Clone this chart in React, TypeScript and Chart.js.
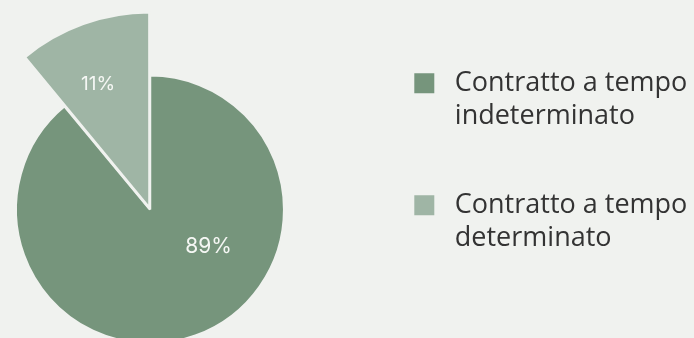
import { useEffect, useRef } from "react";
import { Chart, registerables } from "chart.js";

Chart.register(...registerables);

// ---- data ----
const categories: string[][] = [
  ["Contratto a tempo", "indeterminato"],
  ["Contratto a tempo", "determinato"],
];
const shares: number[] = [89, 11];

// ---- styles ----
const BG = "#f0f2ef";
const sliceColors = ["#76957c", "#9fb5a5"];
const sliceOffsets = [0, 6];
const EXPLODE = [1, 1.455]; // outer radius factor per slice (highlighted slice sticks out)
const LABEL_ANGLE = [0.382, 0.432]; // fraction along the arc
const LABEL_RADIUS = [0.516, 0.695]; // fraction of outer radius
const LABEL_SIZE = [21, 19];
const FONT = '"Open Sans", sans-serif';
const LABEL_FONT = 'Inter, "Open Sans", sans-serif';
const LEGEND_SIZE = 27;
const LEGEND_PAD = 56;
const BOX = 20;
const LEGEND_LEFT = 358.3; // wanted left edge of the legend box (page px)

// canvas is a bit larger than the visible frame so the pie can bleed off the edges
const SHIFT_X = 70;
const EXTRA_R = 40;
const CANVAS_W = 694 + SHIFT_X + EXTRA_R;
const CANVAS_H = 410;

const explodePlugin = {
  id: "explodeSlice",
  afterDatasetsUpdate(chart: any) {
    const meta = chart.getDatasetMeta(0);
    const base = meta.controller.outerRadius;
    meta.data.forEach((arc: any, i: number) => {
      arc.outerRadius = base * EXPLODE[i];
    });
  },
};

const labelPlugin = {
  id: "sliceLabels",
  afterDatasetsDraw(chart: any) {
    const ctx = chart.ctx;
    const meta = chart.getDatasetMeta(0);
    meta.data.forEach((arc: any, i: number) => {
      const { x, y, startAngle, endAngle, outerRadius } = arc;
      const a = startAngle + LABEL_ANGLE[i] * (endAngle - startAngle);
      const r = LABEL_RADIUS[i] * outerRadius;
      ctx.save();
      ctx.font = `${LABEL_SIZE[i]}px ${LABEL_FONT}`;
      ctx.fillStyle = "#f5f7f4";
      ctx.textAlign = "center";
      ctx.textBaseline = "middle";
      ctx.fillText(`${shares[i]}%`, x + r * Math.cos(a), y + r * Math.sin(a));
      ctx.restore();
    });
  },
};

export default function App() {
  const ref = useRef<HTMLCanvasElement | null>(null);
  useEffect(() => {
    const canvas = ref.current as HTMLCanvasElement;
    const mctx = document.createElement("canvas").getContext("2d") as CanvasRenderingContext2D;
    mctx.font = `${LEGEND_SIZE}px ${FONT}`;
    let textW = 0;
    categories.forEach((lines) =>
      lines.forEach((l) => {
        textW = Math.max(textW, mctx.measureText(" " + l).width);
      })
    );
    const legendW = LEGEND_PAD + BOX + LEGEND_SIZE / 2 + textW + 10;
    const padRight = 694 + EXTRA_R - (LEGEND_LEFT + legendW);

    const chart = new Chart(canvas, {
      type: "pie",
      data: {
        labels: categories as any,
        datasets: [
          {
            data: shares,
            backgroundColor: sliceColors,
            borderColor: BG,
            borderWidth: 2.5,
            offset: sliceOffsets,
            radius: 134.2,
          } as any,
        ],
      },
      options: {
        animation: false,
        responsive: true,
        maintainAspectRatio: false,
        layout: { padding: { left: 11.7, right: padRight, top: 13.8, bottom: 4.8 } },
        plugins: {
          tooltip: { enabled: false },
          legend: {
            position: "right",
            align: "start",
            labels: {
              boxWidth: BOX,
              boxHeight: BOX,
              padding: LEGEND_PAD,
              color: "#333333",
              font: { family: FONT, size: LEGEND_SIZE, lineHeight: 1.222 },
              generateLabels: () =>
                categories.map((lines, i) => ({
                  text: lines.map((l) => " " + l) as any,
                  fillStyle: sliceColors[i],
                  strokeStyle: sliceColors[i],
                  lineWidth: 0,
                  hidden: false,
                  index: i,
                  fontColor: "#333333",
                })),
            },
          },
        },
      } as any,
      plugins: [explodePlugin, labelPlugin],
    });
    return () => chart.destroy();
  }, []);
  return (
    <div
      style={{
        position: "absolute",
        left: 0,
        top: 0,
        width: 694,
        height: 338,
        background: BG,
        overflow: "hidden",
      }}
    >
      <div
        style={{
          position: "absolute",
          left: -SHIFT_X,
          top: 0,
          width: CANVAS_W,
          height: CANVAS_H,
        }}
      >
        <canvas ref={ref} />
      </div>
    </div>
  );
}
